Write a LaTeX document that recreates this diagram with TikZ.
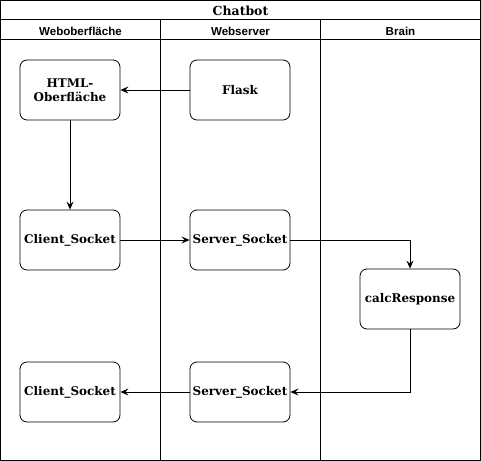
\documentclass[tikz,border=0pt]{standalone}
\usepackage{fontspec}
\setmainfont{DejaVu Serif}
\newfontfamily\hdrfont{Liberation Sans}
\usetikzlibrary{arrows.meta}
\begin{document}
\begin{tikzpicture}[x=1bp,y=-1bp,
  box/.style={draw, line width=0.8bp, rounded corners=7bp, minimum width=100bp, minimum height=60bp, inner sep=1bp, font=\fontsize{12}{14}\selectfont\bfseries, align=center},
  lane/.style={line width=1bp},
  hdr/.style={font=\hdrfont\fontsize{11.6}{13}\selectfont\bfseries},
  conn/.style={line width=0.9bp, -{Stealth[length=8bp,width=7bp,inset=3bp]}}]
\useasboundingbox (0,0) rectangle (481,461);
% frame
\draw[lane] (0.5,0.5) rectangle (480.5,460.5);
\draw[lane] (0.5,20) -- (480.5,20);
\draw[lane] (0.5,40) -- (480.5,40);
\draw[lane] (160.5,20) -- (160.5,460.5);
\draw[lane] (320.5,20) -- (320.5,460.5);
\node[font=\fontsize{12.5}{15}\selectfont\bfseries] (title) at (240.5,11) {Chatbot};
\node[hdr] (h1) at (80.5,31) {Weboberfläche};
\node[hdr] (h2) at (240.5,31) {Webserver};
\node[hdr] (h3) at (400.5,31) {Brain};
% nodes
\node[box] (html) at (70,90) {HTML-\\Oberfläche};
\node[box] (flask) at (240,90) {Flask};
\node[box] (cs1) at (70,240) {Client\_Socket};
\node[box] (ss1) at (240,240) {Server\_Socket};
\node[box] (calc) at (410,299) {calcResponse};
\node[box] (cs2) at (70,392) {Client\_Socket};
\node[box] (ss2) at (240,392) {Server\_Socket};
% connectors
\draw[conn] (flask) -- (html);
\draw[conn] (html) -- (cs1);
\draw[conn] (cs1) -- (ss1);
\draw[conn] (ss1.east) -| (calc.north);
\draw[conn] (calc.south) |- (ss2.east);
\draw[conn] (ss2) -- (cs2);
\end{tikzpicture}
\end{document}
